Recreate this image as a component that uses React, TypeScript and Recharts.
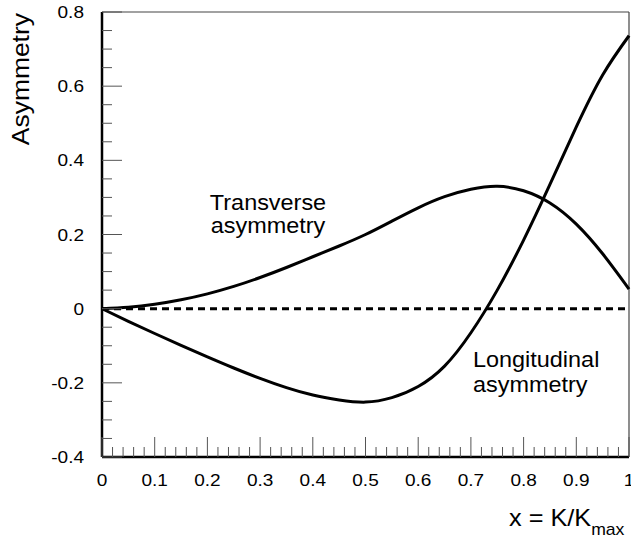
import React from "react";
import {
  LineChart,
  Line,
  XAxis,
  YAxis,
  ReferenceLine,
} from "recharts";

// x = K/Kmax sample points
const xValues = [
  0, 0.05, 0.1, 0.15, 0.2, 0.25, 0.3, 0.35, 0.4, 0.45, 0.5, 0.55, 0.6, 0.65,
  0.7, 0.75, 0.8, 0.85, 0.9, 0.95, 1.0,
];

const transverse = [
  0, 0.004, 0.012, 0.024, 0.04, 0.06, 0.084, 0.111, 0.14, 0.169, 0.2, 0.236,
  0.272, 0.302, 0.322, 0.33, 0.318, 0.285, 0.228, 0.148, 0.053,
];

const longitudinal = [
  0, -0.034, -0.067, -0.099, -0.13, -0.16, -0.188, -0.213, -0.233, -0.246,
  -0.252, -0.24, -0.21, -0.155, -0.065, 0.05, 0.185, 0.335, 0.49, 0.63, 0.736,
];

const xMajorTicks = [0, 0.1, 0.2, 0.3, 0.4, 0.5, 0.6, 0.7, 0.8, 0.9, 1];
const xMajorLabels = ["0", "0.1", "0.2", "0.3", "0.4", "0.5", "0.6", "0.7", "0.8", "0.9", "1"];
const yMajorTicks = [-0.4, -0.2, 0, 0.2, 0.4, 0.6, 0.8];
const yMajorLabels = ["-0.4", "-0.2", "0", "0.2", "0.4", "0.6", "0.8"];

const data = xValues.map((x, i) => ({
  x,
  transverse: transverse[i],
  longitudinal: longitudinal[i],
}));

// minor ticks: every 0.02 on x, every 0.05 on y
const xTicks: number[] = [];
for (let i = 0; i <= 50; i++) xTicks.push(Math.round(i * 2) / 100);
const yTicks: number[] = [];
for (let i = -8; i <= 16; i++) yTicks.push(Math.round(i * 5) / 100);

const FONT = "'Liberation Sans', Arial, Helvetica, sans-serif";
// the labels use a slightly wide sans, so Arial is stretched a bit
const WIDE = 1.12;

const majorIndex = (v: number, majors: number[]) =>
  majors.findIndex((m) => Math.abs(m - v) < 1e-6);

const XTick = (props: any) => {
  const { x, y, payload } = props;
  const idx = majorIndex(payload.value, xMajorTicks);
  const major = idx >= 0;
  return (
    <g>
      <line x1={x} y1={y} x2={x} y2={y - (major ? 20 : 10)} stroke="#555" strokeWidth={1} />
      {major && (
        <text
          transform={`translate(${x} ${y + 29}) scale(${WIDE} 1)`}
          textAnchor="middle"
          fontSize={17}
          fontFamily={FONT}
          fill="#000"
        >
          {xMajorLabels[idx]}
        </text>
      )}
    </g>
  );
};

const YTick = (props: any) => {
  const { x, y, payload } = props;
  const idx = majorIndex(payload.value, yMajorTicks);
  const major = idx >= 0;
  return (
    <g>
      <line x1={x} y1={y} x2={x + (major ? 20 : 10)} y2={y} stroke="#555" strokeWidth={1} />
      {major && (
        <text
          transform={`translate(${x - 18} ${y + 6}) scale(${WIDE} 1)`}
          textAnchor="end"
          fontSize={17}
          fontFamily={FONT}
          fill="#000"
        >
          {yMajorLabels[idx]}
        </text>
      )}
    </g>
  );
};

export default function App() {
  return (
    <div style={{ position: "absolute", left: 0, top: 0, width: 631, height: 542, background: "#fff" }}>
      <LineChart
        width={631}
        height={542}
        data={data}
        margin={{ top: 12, right: 2, bottom: 55, left: 42 }}
      >
        <XAxis
          type="number"
          dataKey="x"
          domain={[0, 1]}
          ticks={xTicks}
          interval={0}
          height={30}
          tickSize={0}
          tickMargin={0}
          tickLine={false}
          axisLine={{ stroke: "#000", strokeWidth: 2.5 }}
          tick={<XTick />}
        />
        <YAxis
          type="number"
          domain={[-0.4, 0.8]}
          ticks={yTicks}
          interval={0}
          width={60}
          tickSize={0}
          tickMargin={0}
          tickLine={false}
          axisLine={{ stroke: "#000", strokeWidth: 2.5 }}
          tick={<YTick />}
        />
        <ReferenceLine y={0.8} stroke="#444" strokeWidth={1.2} />
        <ReferenceLine x={1} stroke="#444" strokeWidth={1.2} />
        <ReferenceLine y={0} stroke="#000" strokeWidth={3} strokeDasharray="7 5" />
        <Line
          type="natural"
          dataKey="transverse"
          stroke="#000"
          strokeWidth={3}
          dot={false}
          isAnimationActive={false}
        />
        <Line
          type="natural"
          dataKey="longitudinal"
          stroke="#000"
          strokeWidth={3}
          dot={false}
          isAnimationActive={false}
        />
      </LineChart>
      <svg
        width={631}
        height={542}
        style={{ position: "absolute", left: 0, top: 0, pointerEvents: "none" }}
        fontFamily={FONT}
      >
        <text transform="translate(29 13) rotate(-90) scale(1.15 1)" textAnchor="end" fontSize={23}>
          Asymmetry
        </text>
        <text transform={`translate(268 210) scale(1.065 1)`} textAnchor="middle" fontSize={22}>
          Transverse
        </text>
        <text transform={`translate(268 233) scale(1.065 1)`} textAnchor="middle" fontSize={22}>
          asymmetry
        </text>
        <text transform={`translate(473 367) scale(1.065 1)`} fontSize={22}>
          Longitudinal
        </text>
        <text transform={`translate(473 392) scale(1.065 1)`} fontSize={22}>
          asymmetry
        </text>
        <text transform="translate(509 526) scale(1.1 1)" fontSize={23}>
          x = K/K
          <tspan fontSize={16} dy={9}>
            max
          </tspan>
        </text>
      </svg>
    </div>
  );
}
